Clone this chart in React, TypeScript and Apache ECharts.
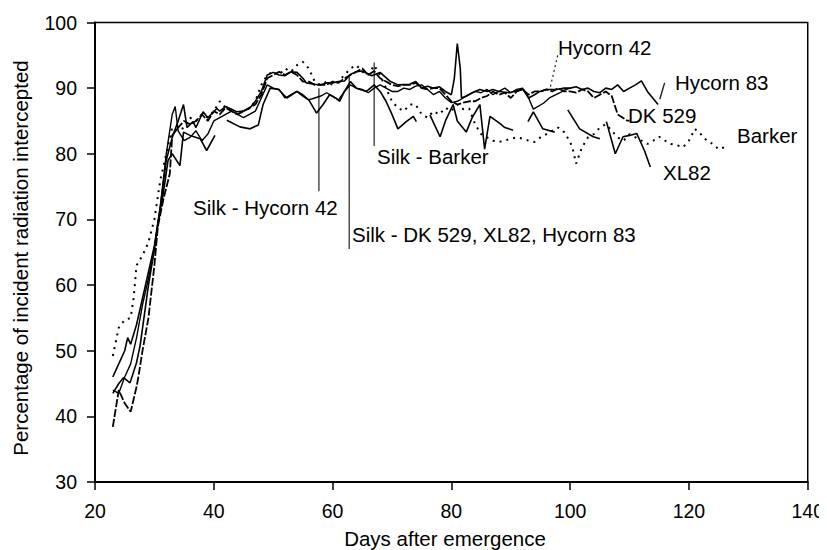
import React, { useEffect, useRef } from "react";
import * as echarts from "echarts";

// Days after emergence ticks
const xTicks = [20, 40, 60, 80, 100, 120, 140];
const yTicks = [30, 40, 50, 60, 70, 80, 90, 100];

// [day, % intercepted]; null marks a missing reading
const hycorn42: [number, number | null][] = [
  [23, 44], [24, 43.5], [25, 46], [26, 48], [27, 52], [28, 57], [29, 61], [30, 65.5], [31, 72], [32, 80],
  [32.5, 83], [33, 86], [33.5, 87.2], [34, 83.5], [35, 82], [36, 82.5], [37, 83.5], [38, 82], [39, 83], [40, 85],
  [41, 85.5], [42, 86], [43, 86.5], [44, 86], [45, 85.5], [46, 86], [47, 86.5], [48, 88.5], [49, 90.5], [50, 90],
  [51, 89.8], [52, 88.5], [53, 89], [54, 89.5], [55, 89], [56, 88.2], [57, 88.5], [58, 88.8], [59, 89.3], [60, 88.8],
  [61, 88.2], [62, 89.5], [63, 90.5], [64, 90], [65, 89.8], [66, 89.3], [67, 90], [68, 90.5], [69, 90], [70, 89.5],
  [71, 89.5], [72, 90], [73, 89.8], [74, 90.3], [75, 90.5], [76, 89.8], [77, 89], [78, 89.5], [79, 88.5], [80, 87.8],
  [81, 88], [82, 88.5], [83, 89], [84, 89.5], [85, 89.3], [86, 89.8], [87, 89], [88, 89.5], [89, 90], [90, 89.3],
  [91, 89.8], [92, 90], [93, 88.5], [93.8, 86.8], [95.5, 87.7], [96.5, 88.5], [98.3, 89.3], [99, 89.7], [100, 90],
];

const hycorn83: [number, number | null][] = [
  [23, 46], [24, 48], [25, 50], [25.5, 52], [26, 51], [27, 54], [28, 58], [29, 62], [30, 66], [31, 72],
  [32, 79], [33, 82.5], [34, 85], [34.9, 87.5], [35.5, 84], [36.5, 84.9], [37, 84], [38.2, 86.4], [39, 85.5], [40.5, 86.9],
  [41, 86.5], [42, 87.2], [43, 86.8], [43.8, 86.4], [45, 86.5], [46, 86.9], [47, 88], [48, 89.5], [49, 92], [50, 92.4],
  [51, 92], [52, 91.9], [53, 92.5], [54, 92.4], [55, 91.5], [55.6, 90.8], [57, 90.6], [58, 90.5], [59, 90.8], [60, 90.8],
  [61, 91], [62, 91.1], [63, 92.1], [64, 92.5], [65, 92.6], [66.6, 91.9], [68, 92.4], [69.6, 91.1], [71, 90.5], [73, 90.6],
  [74, 91], [75, 90], [76, 90.3], [77, 90], [78, 90.2], [79, 89.5], [80, 89], [80.5, 91.5], [81, 96.8], [81.5, 93],
  [81.7, 88.5], [82.5, 88.8], [83.5, 89.3], [84.8, 89.8], [86, 89.5], [87, 89.8], [88, 89.5], [89.8, 89.3], [91, 89.6], [92.1, 89.8],
  [93, 88.5], [94, 89], [94.9, 89.5], [96, 89.8], [97.7, 89.8], [99, 90], [100, 90], [101, 90.2], [102, 89.8], [103, 90],
  [104, 89.5], [105, 89.3], [106, 90], [107, 89.8], [108, 90.5], [109, 89.5], [110, 90], [111, 90.5], [112, 91.1], [113, 89.5],
  [114.8, 87.5],
];

const dk529: [number, number | null][] = [
  [23, 38.4], [24, 44], [25, 42], [26, 40.7], [27, 44.5], [27.3, 46], [28, 50], [29, 55], [30, 63], [30.6, 69],
  [31.5, 73], [32.6, 77], [33, 82.8], [34, 84], [35, 85], [36, 84.5], [37, 85], [38, 86], [39, 85], [40, 86.5],
  [41, 86], [42, 87], [43, 86.5], [44, 86], [45, 86.5], [46, 87], [47, 87.5], [48, 89], [49, 91.5], [50, 92],
  [51, 92.5], [52, 92], [53, 92.5], [54, 92], [55, 91], [56, 91], [57, 90.5], [58, 90.5], [59, 90.5], [60, 91],
  [61, 90.8], [62, 91.5], [63, 92], [64, 92.5], [65, 93], [66, 92], [67, 92.6], [68, 91.5], [69, 91], [70, 90.5],
  [71, 90.3], [72, 90.5], [73, 90.5], [74, 90.8], [75, 90], [76, 89.8], [77, 90], [78, 90], [79, 89], [80, 88],
  [81, 87.5], [82, 87.8], [83, 88], [84, 88], [85, 88.5], [86, 88.8], [87, 89.5], [88, 89], [89, 89.3], [90, 88.5],
  [91, 89.5], [92, 89.8], [93, 89], [94, 89.5], [95, 89.5], [96, 89.8], [97, 89.5], [98, 90], [99, 89.5], [100, 89.5],
  [101, 89.3], [102, 89.8], [103, 89.5], [104, 88.5], [105, 89], [106, 89.5], [107, 88.8], [108, 86], [109.5, 85.1], [110, 85],
];

const xl82: [number, number | null][] = [
  [23, 43.5], [24, 45], [24.8, 45.9], [25.9, 45.1], [27, 48.2], [27.6, 50.8], [28.3, 55.4], [29, 60], [29.8, 64.3], [30.6, 69.4],
  [31.5, 74], [32.3, 79], [33, 80], [34.3, 78.2], [34.9, 83.3], [36, 82.8], [37.7, 82.3], [38.8, 80.5], [40.2, 82.8], [41, null],
  [42.2, 85.1], [44.4, 84.1], [46.1, 83.8], [47.5, 84.4], [48.3, 87.5], [49.5, 90], [50.9, 89.8], [52.3, 88.5], [54, 89.5], [55, 88.8],
  [56, 88.2], [57.3, 86.2], [58.4, 87.5], [59.5, 89], [60.5, 88.5], [61.2, 88], [62, 89.5], [63, 91], [64, 90], [65.7, 89.5],
  [67, 90.5], [68, 89.5], [69, 88], [70, 86], [71, 83.8], [72.4, 84.9], [73.6, 85.7], [74.1, 84.9], [75, null], [76.4, 85.9],
  [78.1, 82.6], [79, 85], [80.3, 87.5], [81, 85], [82.5, 83.3], [83.5, 85.5], [84.8, 87.5], [85.6, 80.7], [86.5, 85.7], [88.2, 84.6],
  [89, 84], [90.4, 83.6], [91.5, null], [92.9, 84.9], [93.8, 86.4], [95.4, 83.8], [97.4, 83.3], [98.5, null], [99.6, 86.7], [101.6, 83.8],
  [103.9, 82.6], [105, 82.3], [105.5, null], [106.1, 84.9], [107.6, 80], [108.9, 82.6], [110, 82.8], [111.2, 83.1], [112.5, 80.5], [113.5, 78],
];

const barker: [number, number | null][] = [
  [23, 49.2], [24, 53.5], [25, 54.7], [26, 55], [26.5, 58], [27, 63], [28, 64.5], [29, 66.5], [30, 70], [31, 76],
  [32, 80], [33, 84], [34, 83.5], [35, 84], [36, 85.5], [37, 85], [38, 86], [39, 85.5], [40, 86.5], [41, 88],
  [42, 87], [43, 86.5], [44, 86], [45, 86.5], [46, 87], [47, 88], [48, 90.5], [49, 92], [50, 92.5], [51, 92],
  [52, 93], [53, 92.5], [54, 93.5], [55, 94], [56, 93], [57, 91], [58, 90.5], [59, 91], [60, 90.5], [61, 91],
  [62, 92], [63, 93], [64, 93.5], [65, 92.5], [66, 92], [67, 93.5], [68, 92], [69, 90], [70, 88], [71, 87],
  [72, 86.5], [73, 87.5], [74, 87.5], [75, 86], [76, 85.5], [77, 86.5], [78, 86], [79, 87], [80, 86.5], [81, 87.5],
  [82, 86.8], [83, 86.9], [84, 84.5], [85, 83], [86, 82.5], [87, 82], [88, 81.8], [89, 82], [90, 82.3], [91, 82.5],
  [92, 82.3], [93, 82], [94, 81.8], [95, 82.5], [96, 83], [97, 83.5], [98, 84], [99, 83.3], [100, 81.8], [100.5, 80.5],
  [101, 78.5], [102, 81], [103, 82.5], [104, 83], [105, 84], [106, 84.5], [107, 83.5], [108, 82.5], [109, 82], [110, 83],
  [111, 82.5], [112, 82], [113, 81.5], [114, 82], [115, 82.6], [116, 82], [117, 81.5], [118, 81.3], [119, 81], [120, 82],
  [121, 83.8], [122, 83], [123, 82], [124, 81.5], [125, 80.7], [126, 81], [126.6, 81.3],
];

// Silking dates: vertical markers
const silkHycorn42: [number, number][] = [[57.7, 90], [57.7, 74.3]];
const silkDkXlHycorn83: [number, number][] = [[62.8, 91.9], [62.8, 65.5]];
const silkBarker: [number, number][] = [[67, 93.9], [67, 81.2]];

// Leaders from cultivar names to their curves
const leaderHycorn42: [number, number][] = [[97.9, 95], [96.6, 89.9]];
const leaderHycorn83: [number, number][] = [[115.1, 88.3], [115.9, 90.8]];

const FONT = "'Liberation Sans', Arial, sans-serif";
const TICK_FS = 19.5;
const FS = 20.5;

const toData = (arr: [number, number | null][]) =>
  arr.map(([d, v]) => [d, v === null ? "-" : v]);

export default function App() {
  const ref = useRef<HTMLDivElement>(null);

  useEffect(() => {
    if (!ref.current) return;
    const chart = echarts.init(ref.current, undefined, { renderer: "svg" });

    const curve = (name: string, data: [number, number | null][], lineStyle: any) => ({
      name,
      type: "line",
      data: toData(data),
      showSymbol: false,
      symbol: "none",
      connectNulls: false,
      silent: true,
      lineStyle: { color: "#000", width: 1.6, ...lineStyle },
      z: 3,
    });

    const marker = (name: string, data: [number, number][], lineStyle: any) => ({
      name,
      type: "line",
      data,
      showSymbol: false,
      symbol: "none",
      silent: true,
      lineStyle: { color: "#222", width: 1.2, ...lineStyle },
      z: 2,
    });

    const text = (t: string, x: number, y: number, extra: any = {}) => ({
      type: "text",
      x,
      y,
      ...extra,
      style: {
        text: t,
        fill: "#000",
        font: `${FS}px ${FONT}`,
        verticalAlign: "middle",
        align: "left",
        ...(extra.style || {}),
      },
      z: 10,
    });

    chart.setOption({
      animation: false,
      backgroundColor: "#fff",
      textStyle: { fontFamily: FONT },
      grid: {
        left: 87,
        right: 11,
        top: 14.5,
        bottom: 68,
        show: true,
        borderColor: "#000",
        borderWidth: 1.5,
        backgroundColor: "transparent",
      },
      xAxis: {
        type: "value",
        min: xTicks[0],
        max: xTicks[xTicks.length - 1],
        interval: 20,
        axisLine: { show: true, lineStyle: { color: "#000", width: 2 } },
        axisTick: { show: true, length: 8, inside: false, lineStyle: { color: "#000", width: 1.5 } },
        axisLabel: { fontSize: TICK_FS, color: "#000", margin: 19, fontFamily: FONT },
        splitLine: { show: false },
      },
      yAxis: {
        type: "value",
        min: yTicks[0],
        max: yTicks[yTicks.length - 1],
        interval: 10,
        axisLine: { show: true, lineStyle: { color: "#000", width: 2 } },
        axisTick: { show: true, length: 8, inside: false, lineStyle: { color: "#000", width: 1.5 } },
        axisLabel: { fontSize: TICK_FS, color: "#000", margin: 18, fontFamily: FONT },
        splitLine: { show: false },
      },
      series: [
        curve("Barker", barker, { type: [2, 5], width: 2 }),
        curve("XL82", xl82, {}),
        curve("DK 529", dk529, { type: [8, 2], width: 1.8 }),
        curve("Hycorn 83", hycorn83, {}),
        curve("Hycorn 42", hycorn42, { width: 1.4 }),
        marker("Silk - Hycorn 42", silkHycorn42, {}),
        marker("Silk - DK 529, XL82, Hycorn 83", silkDkXlHycorn83, {}),
        marker("Silk - Barker", silkBarker, {}),
        marker("Hycorn 42 leader", leaderHycorn42, { type: [2, 3], width: 1.2 }),
        marker("Hycorn 83 leader", leaderHycorn83, { width: 1.4 }),
      ],
      graphic: [
        // axis titles
        text("Days after emergence", 437, 530, { style: { align: "center" } }),
        text("Percentage of incident radiation intercepted", 12, 250, {
          rotation: Math.PI / 2,
          style: { align: "center" },
        }),
        // annotations
        text("Silk - Hycorn 42", 185, 199),
        text("Silk - DK 529, XL82, Hycorn 83", 344, 226),
        text("Silk - Barker", 369, 148),
        text("Hycorn 42", 550, 39),
        text("Hycorn 83", 667, 74),
        text("DK 529", 620, 107),
        text("Barker", 729, 127),
        text("XL82", 655, 164),
      ],
    });

    return () => chart.dispose();
  }, []);

  return <div ref={ref} style={{ width: 819, height: 542 }} />;
}
